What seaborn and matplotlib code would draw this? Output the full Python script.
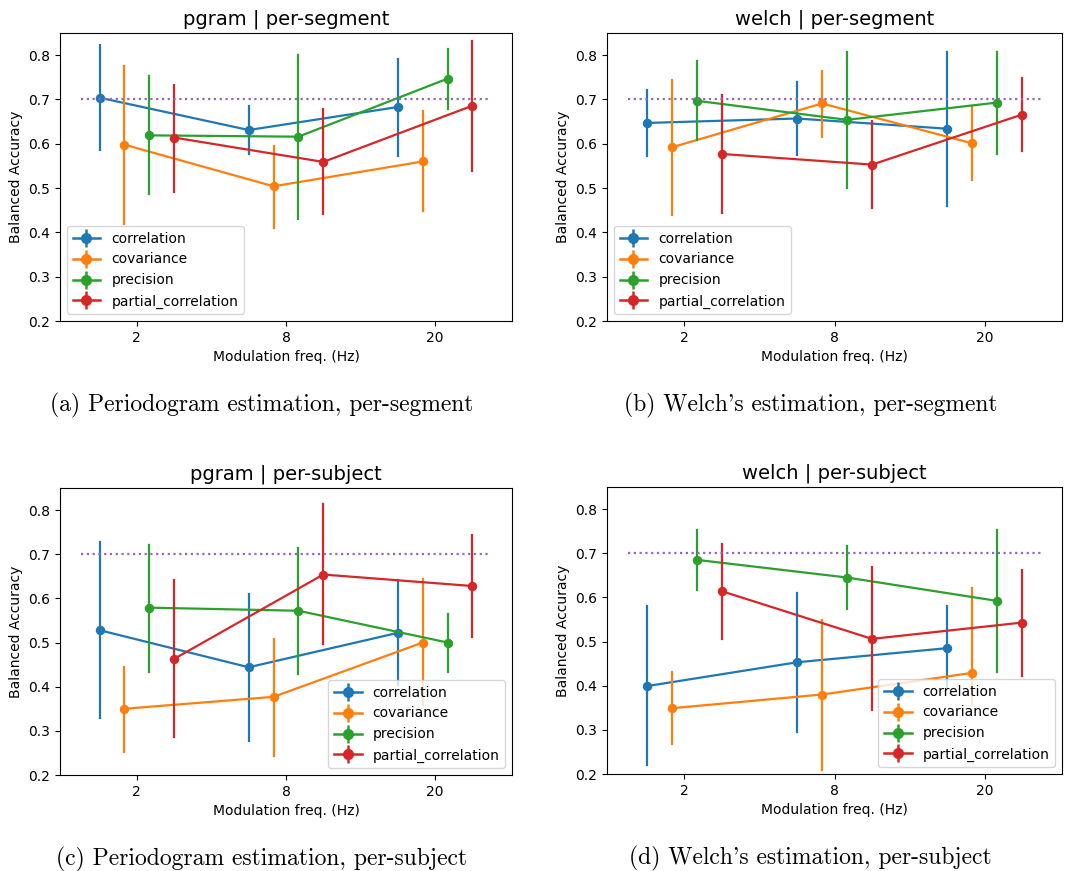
import numpy as np
import pandas as pd
import matplotlib
matplotlib.use("Agg")
import matplotlib.pyplot as plt
from matplotlib.lines import Line2D
from matplotlib.legend_handler import HandlerTuple
import seaborn as sns

freqs = ["2", "8", "20"]
methods = ["correlation", "covariance", "precision", "partial_correlation"]
colors = ["#1f77b4", "#ff7f0e", "#2ca02c", "#d62728"]
CHANCE = 0.7

# (mean, low, high) per method, per freq
pgram_seg = {
    "correlation":         [(0.704, 0.585, 0.822), (0.631, 0.578, 0.685), (0.683, 0.573, 0.792)],
    "covariance":          [(0.598, 0.420, 0.776), (0.504, 0.410, 0.596), (0.560, 0.448, 0.673)],
    "precision":           [(0.619, 0.486, 0.752), (0.616, 0.431, 0.800), (0.747, 0.679, 0.814)],
    "partial_correlation": [(0.614, 0.492, 0.733), (0.559, 0.442, 0.679), (0.686, 0.539, 0.833)],
}
welch_seg = {
    "correlation":         [(0.647, 0.572, 0.721), (0.657, 0.574, 0.740), (0.634, 0.460, 0.807)],
    "covariance":          [(0.592, 0.440, 0.743), (0.691, 0.616, 0.764), (0.601, 0.518, 0.685)],
    "precision":           [(0.697, 0.609, 0.787), (0.654, 0.500, 0.807), (0.693, 0.578, 0.807)],
    "partial_correlation": [(0.577, 0.443, 0.711), (0.553, 0.455, 0.652), (0.666, 0.584, 0.749)],
}
pgram_subj = {
    "correlation":         [(0.528, 0.330, 0.727), (0.444, 0.277, 0.611), (0.522, 0.404, 0.642)],
    "covariance":          [(0.350, 0.253, 0.445), (0.377, 0.244, 0.508), (0.500, 0.358, 0.643)],
    "precision":           [(0.579, 0.434, 0.722), (0.572, 0.428, 0.715), (0.500, 0.434, 0.565)],
    "partial_correlation": [(0.463, 0.287, 0.642), (0.654, 0.497, 0.814), (0.628, 0.513, 0.743)],
}
welch_subj = {
    "correlation":         [(0.399, 0.220, 0.580), (0.453, 0.296, 0.611), (0.485, 0.398, 0.581)],
    "covariance":          [(0.349, 0.267, 0.432), (0.380, 0.210, 0.549), (0.429, 0.357, 0.622)],
    "precision":           [(0.685, 0.617, 0.753), (0.645, 0.574, 0.717), (0.592, 0.431, 0.753)],
    "partial_correlation": [(0.614, 0.505, 0.722), (0.506, 0.344, 0.669), (0.543, 0.421, 0.663)],
}

panels = [
    (pgram_seg, "pgram | per-segment", "(a) Periodogram estimation, per-segment", "lower left"),
    (welch_seg, "welch | per-segment", "(b) Welch's estimation, per-segment", "lower left"),
    (pgram_subj, "pgram | per-subject", "(c) Periodogram estimation, per-subject", "lower right"),
    (welch_subj, "welch | per-subject", "(d) Welch's estimation, per-subject", "lower right"),
]

W, H = 1069, 871
# axes boxes in pixels: left, top, right, bottom
boxes = [(60, 33, 512, 321), (607, 33, 1062, 321), (60, 488, 512, 775), (607, 487, 1062, 774)]

fig = plt.figure(figsize=(W / 100, H / 100), dpi=100)

def to_long(d):
    rows = []
    for m in methods:
        for f, (mu, lo, hi) in zip(freqs, d[m]):
            for v in (lo, mu, hi):
                rows.append({"freq": f, "method": m, "value": v})
    return pd.DataFrame(rows)

DODGE = 0.5
for (data, title, caption, loc), (l, t, r, b) in zip(panels, boxes):
    ax = fig.add_axes([l / W, 1 - b / H, (r - l) / W, (b - t) / H])
    df = to_long(data)
    sns.pointplot(data=df, x="freq", y="value", hue="method", order=freqs,
                  hue_order=methods, palette=colors, estimator="median",
                  errorbar=lambda x: (x.min(), x.max()), dodge=DODGE,
                  linewidth=1.6, markersize=5.6, markeredgewidth=1.2,
                  err_kws={"linewidth": 1.6}, ax=ax, legend=False)
    ax.hlines(CHANCE, -DODGE * 0.75, 2 + DODGE * 0.75, colors="#9467bd",
              linestyles=(0, (1, 1.6)), linewidth=1.6)
    ax.set_ylim(0.2, 0.85)
    ax.set_xlim(-0.515, 2.515)
    ax.set_yticks([0.2, 0.3, 0.4, 0.5, 0.6, 0.7, 0.8])
    ax.tick_params(labelsize=10)
    ax.set_xlabel("Modulation freq. (Hz)", fontsize=10)
    ax.set_ylabel("Balanced Accuracy", fontsize=10)
    ax.set_title(title, fontsize=14)
    handles = [(Line2D([], [], color=c, marker="o", markersize=7, linewidth=1.8),
                Line2D([], [], color=c, marker="|", markersize=13, markeredgewidth=1.8, linestyle="none"))
               for c in colors]
    ax.legend(handles, methods, loc=loc, fontsize=10,
              handler_map={tuple: HandlerTuple(ndivide=1)})
    cx = ((l + r) / 2 - 24) / W
    cy = 1 - (b + 84) / H
    fig.text(cx, cy, caption, ha="center", va="center", family="cmr10", fontsize=17)

fig.savefig("out.png", dpi=100)
